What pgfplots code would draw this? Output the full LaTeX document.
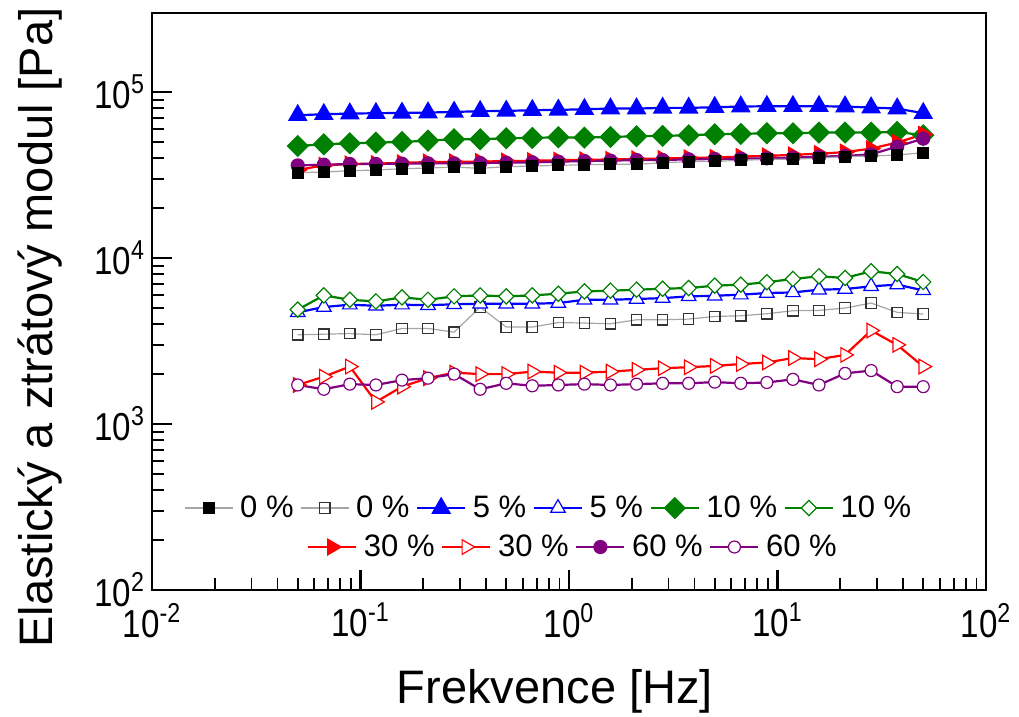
\documentclass[border=0pt]{standalone}
\usepackage{fontspec}
\setmainfont{Liberation Sans}
\newfontfamily\narrowfont{Liberation Sans}[FakeStretch=0.85]
\usepackage{pgfplots}
\pgfplotsset{compat=1.18}
\usepackage{pgfplotstable}
\definecolor{cgreen}{RGB}{0,128,0}
\definecolor{cpurple}{RGB}{128,0,128}

\pgfplotstableread{
f Gp0 Gpp0 Gp5 Gpp5 Gp10 Gpp10 Gp30 Gpp30 Gp60 Gpp60
0.05 32710 3450 72610 4710 47390 4890 34000 1720 36210 1720
0.0667 33010 3480 73620 5070 48500 5960 36200 1930 36550 1620
0.0889 33630 3510 74300 5240 49180 5610 36900 2220 36900 1740
0.1186 33940 3450 74650 5160 49640 5480 37100 1360 36900 1720
0.1581 34580 3770 74990 5240 50110 5800 37500 1680 37070 1840
0.2108 34900 3770 75340 5200 51050 5610 37900 1890 37240 1890
0.2812 35380 3580 76040 5270 52000 5880 38000 2040 37240 2000
0.3749 34740 5070 76750 5310 52000 5960 38200 2000 37410 1620
0.5 35550 3840 77110 5310 52740 5880 38400 2000 37580 1760
0.6668 35880 3840 77830 5310 52990 5960 38600 2070 37760 1700
0.8891 36210 4090 78190 5360 53480 6100 38900 2040 38110 1720
1.1857 36550 4060 78920 5610 53230 6300 39100 2040 38470 1740
1.5811 36730 4020 79650 5610 53720 6360 39300 2070 38650 1720
2.1085 36730 4250 79650 5670 54220 6450 39600 2120 39010 1740
2.8117 37580 4250 80390 5740 54480 6540 39800 2170 39010 1760
3.7495 38110 4290 80390 5880 54990 6600 40200 2200 39370 1760
5.0 38290 4450 81140 5930 55760 6820 40400 2240 39550 1790
6.6676 38820 4490 81890 6020 56020 6920 40900 2300 39740 1760
8.8914 39370 4620 82270 6160 56540 7150 41300 2350 39920 1780
11.857 39370 4820 82270 6210 56540 7490 41900 2500 40300 1860
15.811 40100 4840 82270 6450 57070 7770 42600 2460 40860 1720
21.085 40860 5000 81890 6510 57070 7590 43500 2610 41240 2020
28.117 41240 5360 80770 6760 57070 8330 45700 3660 42210 2100
37.495 41820 4710 79650 6920 57590 8020 49700 3000 46960 1680
50.0 43190 4600 74650 6390 54990 7180 55700 2220 52490 1680
}\data

\pgfplotsset{
 s0/.style={color=gray!70, line width=0.6pt, mark=square*, mark size=2.7pt, mark options={solid, draw=black, fill=black}},
 o0/.style={color=gray!70, line width=0.6pt, mark=square, mark size=2.6pt, mark options={solid, draw=black!80, fill=white, line width=0.6pt}},
 s5/.style={blue, line width=1.1pt, mark=triangle*, mark size=4.6pt, mark options={solid, draw=blue, fill=blue}},
 o5/.style={blue, line width=1.1pt, mark=triangle*, mark size=4.2pt, mark options={solid, draw=blue, fill=white, line width=0.6pt}},
 s10/.style={cgreen, line width=1.1pt, mark=square*, mark size=3.4pt, mark options={solid, rotate=45, draw=cgreen, fill=cgreen}},
 o10/.style={cgreen, line width=1.1pt, mark=square*, mark size=2.7pt, mark options={solid, rotate=45, draw=cgreen, fill=white, line width=0.6pt}},
 s30/.style={red, line width=1.1pt, mark=triangle*, mark size=4pt, mark options={solid, rotate=-90, draw=red, fill=red}},
 o30/.style={red, line width=1.1pt, mark=triangle*, mark size=4.2pt, mark options={solid, rotate=-90, draw=red, fill=white, line width=0.6pt}},
 s60/.style={cpurple, line width=1.1pt, mark=*, mark size=3pt, mark options={solid, draw=cpurple, fill=cpurple}},
 o60/.style={cpurple, line width=1.1pt, mark=*, mark size=3pt, mark options={solid, draw=cpurple, fill=white, line width=0.6pt}},
 mylegend/.style={
   legend image code/.code={\draw[mark repeat=2,mark phase=2] plot coordinates {(0pt,0pt)(12pt,0pt)(24pt,0pt)};},
   legend style={draw=none, fill=none, font=\fontsize{15.5}{18}\selectfont,
     /tikz/every odd column/.append style={column sep=1.3pt},
     /tikz/every even column/.append style={column sep=1.3pt}},
 },
}

\begin{document}
\begin{tikzpicture}
\begin{axis}[
 name=main,
 scale only axis, width=417pt, height=288.5pt,
 xmode=log, ymode=log,
 xmin=0.01, xmax=100, ymin=100, ymax=3e5,
 axis line style={line width=1.4pt},
 tick align=inside, xtick pos=bottom, ytick pos=left,
 major tick length=10pt, minor tick length=6pt,
 major tick style={black, line width=1.2pt},
 minor tick style={black, line width=0.9pt},
 xtick={0.01,0.1,1,10,100},
 xticklabels={10\textsuperscript{-2},10\textsuperscript{-1},10\textsuperscript{0},10\textsuperscript{1},10\textsuperscript{2}},
 ytick={100,1000,10000,100000},
 yticklabels={10\textsuperscript{2},10\textsuperscript{3},10\textsuperscript{4},10\textsuperscript{5}},
 ticklabel style={font=\narrowfont\fontsize{19.5}{22}\selectfont},
 xticklabel style={yshift=-3pt},
 xlabel={Frekvence [Hz]},
 ylabel={Elastický a ztrátový modul [Pa]},
 label style={font=\fontsize{23.5}{26}\selectfont},
 xlabel style={at={(axis description cs:0.483,-0.175)}, anchor=center},
 ylabel style={at={(axis description cs:-0.134,0.455)}, anchor=center},
 mylegend,
 legend columns=6,
 legend style={at={(axis description cs:0.477,0.142)}, anchor=center},
]
\addlegendimage{s0}\addlegendentry{0 \%}
\addlegendimage{o0}\addlegendentry{0 \%}
\addlegendimage{s5}\addlegendentry{5 \%}
\addlegendimage{o5}\addlegendentry{5 \%}
\addlegendimage{s10}\addlegendentry{10 \%}
\addlegendimage{o10}\addlegendentry{10 \%}

\addplot[o0, forget plot] table[x=f, y=Gpp0] {\data};
\addplot[o5, forget plot] table[x=f, y=Gpp5] {\data};
\addplot[o10, forget plot] table[x=f, y=Gpp10] {\data};
\addplot[o30, forget plot] table[x=f, y=Gpp30] {\data};
\addplot[o60, forget plot] table[x=f, y=Gpp60] {\data};
\addplot[s10, forget plot] table[x=f, y=Gp10] {\data};
\addplot[s5, forget plot] table[x=f, y=Gp5] {\data};
\addplot[s30, forget plot] table[x=f, y=Gp30] {\data};
\addplot[s60, forget plot] table[x=f, y=Gp60] {\data};
\addplot[s0, forget plot] table[x=f, y=Gp0] {\data};
\end{axis}

\begin{axis}[
 at={(main.south west)}, anchor=south west,
 scale only axis, width=417pt, height=288.5pt,
 hide axis, xmin=0, xmax=1, ymin=0, ymax=1,
 mylegend,
 legend columns=4,
 legend style={at={(axis description cs:0.506,0.0745)}, anchor=center},
]
\addlegendimage{s30}\addlegendentry{30 \%}
\addlegendimage{o30}\addlegendentry{30 \%}
\addlegendimage{s60}\addlegendentry{60 \%}
\addlegendimage{o60}\addlegendentry{60 \%}
\end{axis}

\pgfresetboundingbox
\path ([shift={(-76pt,-63.5pt)}]main.south west) rectangle ([shift={(433.5pt,295pt)}]main.south west);
\end{tikzpicture}
\end{document}
